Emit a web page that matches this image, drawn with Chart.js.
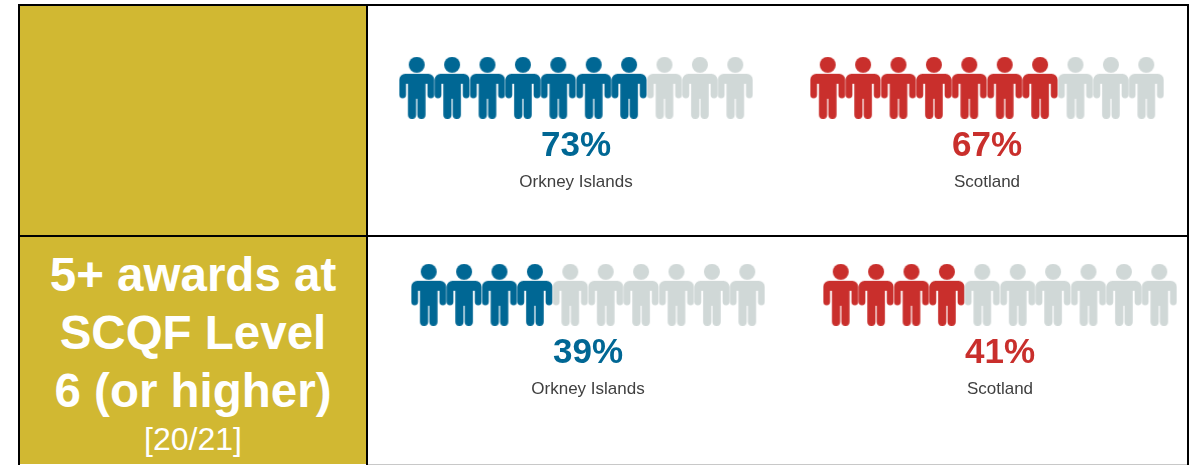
<!DOCTYPE html>
<html>
<head>
<meta charset="utf-8">
<script src="https://cdn.jsdelivr.net/npm/chart.js@4"></script>
<style>
html, body { margin: 0; padding: 0; background: #fff; overflow: hidden; }
body { width: 1193px; height: 465px; position: relative; font-family: "Liberation Sans", Arial, sans-serif; }
.gold { position: absolute; left: 20px; width: 346px; background: #d1b832; }
.gold.top { top: 6px; height: 229px; }
.gold.bottom { top: 237px; height: 227px; color: #fff; text-align: center; }
.line { position: absolute; background: #000; }
.edge-top { left: 18px; top: 4px; width: 1171px; height: 2px; }
.edge-left { left: 18px; top: 4px; width: 2px; height: 461px; }
.edge-right { left: 1187px; top: 4px; width: 2px; height: 461px; }
.divider-v { left: 366px; top: 4px; width: 2px; height: 461px; }
.divider-h { left: 18px; top: 235px; width: 1171px; height: 2px; }
.edge-bottom { left: 368px; top: 464px; width: 819px; height: 1px; background: #c8c8c8; }
.gold h2 { margin: 0; position: absolute; left: 0; right: 0; font-size: 47.5px; line-height: 58px; font-weight: bold; top: 9px; }
.gold span { position: absolute; left: 0; right: 0; top: 182px; font-size: 32px; line-height: 40px; }
canvas { position: absolute; }
#p0 { left: 399px; top: 50px; }
#p1 { left: 810px; top: 50px; }
#p2 { left: 411px; top: 257px; }
#p3 { left: 823px; top: 257px; }
</style>
</head>
<body>
<div class="gold top"></div>
<div class="gold bottom">
  <h2>5+ awards at<br>SCQF Level<br>6 (or higher)</h2>
  <span>[20/21]</span>
</div>
<div class="line edge-top"></div>
<div class="line edge-left"></div>
<div class="line edge-right"></div>
<div class="line divider-v"></div>
<div class="line divider-h"></div>
<div class="line edge-bottom"></div>
<canvas id="p0" width="354" height="150"></canvas>
<canvas id="p1" width="354" height="150"></canvas>
<canvas id="p2" width="354" height="150"></canvas>
<canvas id="p3" width="354" height="150"></canvas>
<script>
const areas = ["Orkney Islands", "Scotland", "Orkney Islands", "Scotland"];
const percents = [73, 67, 39, 41];
const filledPeople = [7, 7, 4, 4];
const people = [1, 2, 3, 4, 5, 6, 7, 8, 9, 10];

const areaColors = { "Orkney Islands": "#006794", "Scotland": "#c92f2c" };
const restColor = "#d0d8d7";

// person icon, drawn once per colour and used as the point style
const makePerson = (color) => {
    const c = document.createElement("canvas");
    c.width = 36;
    c.height = 62;
    const ctx = c.getContext("2d");
    ctx.fillStyle = color;
    ctx.beginPath();
    ctx.arc(18, 8, 8, 0, Math.PI * 2);
    ctx.fill();
    ctx.beginPath();
    ctx.roundRect(0.5, 17, 35, 10, [6, 6, 0, 0]);
    ctx.roundRect(0.5, 21, 6.8, 20.5, 3.4);
    ctx.roundRect(28.7, 21, 6.8, 20.5, 3.4);
    ctx.rect(9.2, 21, 17.6, 21);
    ctx.roundRect(9.2, 34, 8.2, 28, 4);
    ctx.roundRect(18.6, 34, 8.2, 28, 4);
    ctx.fill();
    return c;
};

percents.forEach((pct, i) => {
    const color = areaColors[areas[i]];
    const toPoints = (list) => list.map(p => ({ x: p, y: 0 }));
    new Chart(document.getElementById("p" + i), {
        type: "scatter",
        data: {
            datasets: [{
                label: "Rest",
                data: toPoints(people.slice(filledPeople[i])),
                pointStyle: makePerson(restColor),
                clip: false
            }, {
                label: areas[i],
                data: toPoints(people.slice(0, filledPeople[i])),
                pointStyle: makePerson(color),
                clip: false
            }]
        },
        options: {
            responsive: false,
            animation: false,
            layout: { autoPadding: false, padding: 0 },
            scales: {
                x: { display: false, min: 0.5, max: 10.5 },
                y: { display: false, min: -1, max: 1 }
            },
            plugins: {
                legend: { display: false },
                tooltip: { enabled: false },
                // bottom boxes stack upward: the title is the lowest line
                title: {
                    display: true,
                    position: "bottom",
                    text: areas[i],
                    color: "#404040",
                    font: { family: "Liberation Sans", size: 17, weight: "normal" },
                    padding: { top: 5, bottom: 7 }
                },
                subtitle: {
                    display: true,
                    position: "bottom",
                    text: pct + "%",
                    color: color,
                    font: { family: "Liberation Sans", size: 35, weight: "bold" },
                    padding: { top: 0, bottom: 0 }
                }
            }
        }
    });
});
</script>
</body>
</html>
